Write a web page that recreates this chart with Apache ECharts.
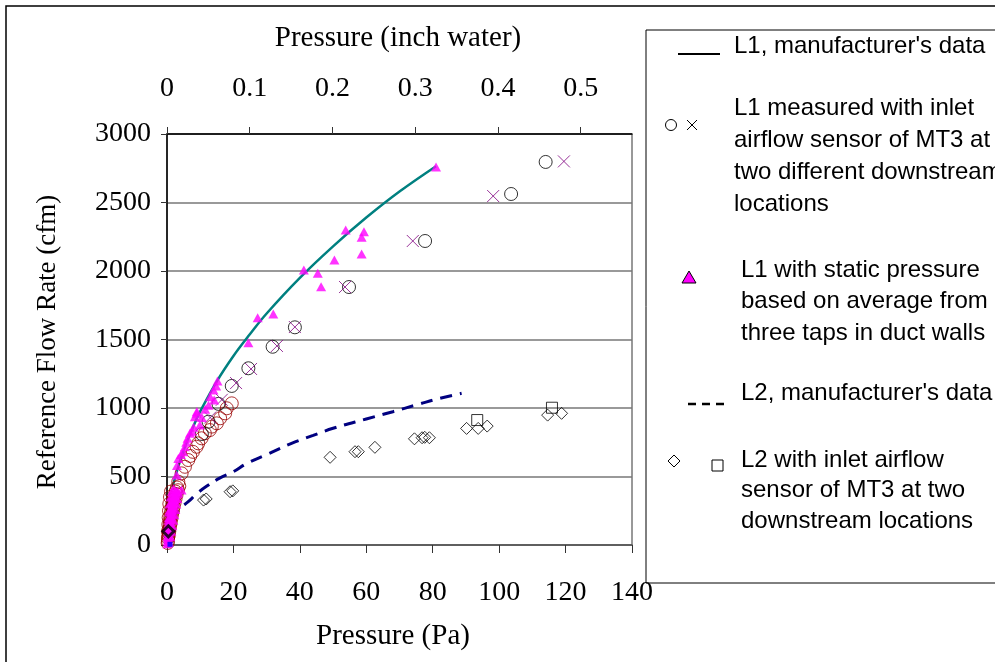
<!DOCTYPE html>
<html><head><meta charset="utf-8">
<script src="https://cdn.jsdelivr.net/npm/echarts@6/dist/echarts.min.js"></script>
<style>html,body{margin:0;padding:0;background:#fff}#c{width:995px;height:662px}</style>
</head><body><div id="c"></div>
<script>
// ---- data (Pa, cfm) ----
var xTicksPa = [0,20,40,60,80,100,120,140];
var xTicksInch = [0,0.1,0.2,0.3,0.4,0.5];
var yTicks = [0,500,1000,1500,2000,2500,3000];
var PA_PER_INCH = 249.09;

var L1_mfr = [[1.7,425],[3,540],[5,690],[8,870],[10,975],[15,1195],[20,1380],[25,1540],[30,1690],[40,1950],[50,2180],[60,2390],[70,2580],[81,2765]];
var L2_mfr = [[1.5,180],[2.4,220],[4,270],[6.4,316],[9,375],[12,430],[16,490],[20,535],[24,595],[30,660],[37.5,742],[44,800],[50,852],[60,920],[68,973],[76,1029],[82,1070],[88.7,1107]];
var L2_origin = [[0.9,5]];

var L1_circlesRed = [[0.3,30],[0.4,60],[0.5,90],[0.6,120],[0.8,150],[0.9,180],[1.0,210],[1.2,240],[1.4,270],[1.6,300],[1.9,330],[2.2,360],[2.6,390],[3.0,420],[3.4,462],[4.4,523],[5.4,571],[6.4,620],[7.0,650],[7.8,680],[8.9,717],[9.4,742],[10.4,779],[11.4,815],[12.9,839],[13.5,864],[15,888],[16,925],[17.5,961],[18,998],[19.5,1034],
  [0.2,15],[0.5,70],[0.7,100],[0.9,130],[1.1,160],[1.3,190],[1.5,220],[1.8,250],[2.0,280],[2.3,310],[2.6,340],[2.9,370],[3.3,400],[3.7,430],[0.3,50],[0.3,100],[0.4,150],[0.5,200],[0.6,250],[0.7,300],[0.9,350],[1.2,390]];
var L1_circlesBlack = [[114,2796],[103.6,2562],[77.7,2219],[54.8,1883],[38.5,1589],[31.8,1447],[24.5,1290],[19.5,1161],[15.5,1030],[12.5,900],[10.5,810]];
var L1_crosses = [[119.5,2800],[98.2,2547],[74,2219],[53.6,1883],[38.5,1591],[33.1,1453],[25.3,1285],[20.8,1182],[16.5,1060],[13,930]];
var L1_triangles = [[81,2760],[59.3,2287],[53.8,2299],[58.6,2246],[58.6,2124],[50.4,2080],[41.2,2007],[45.4,1983],[46.4,1885],[32,1686],[27.3,1659],[24.5,1477],[15.2,1197],[14.8,1161],[14,1131],[13,1082],[14.2,1058],[12.5,1020],[11.5,990],[9,975],[8.9,961],[8.4,937],[10.5,930],[9.9,876],[8,860],[7.5,830],[6.9,815],[6.2,780],[5.8,750],[5.4,717],[4.9,681],[4.2,660],[3.4,632],[3,580],[2.9,511],[4.4,401],
  [0.1,10],[0.2,30],[0.3,45],[0.4,60],[0.5,75],[0.6,95],[0.7,110],[0.8,130],[0.9,150],[1.0,170],[1.1,190],[1.2,210],[1.4,230],[1.5,250],[1.7,270],[1.9,290],[2.1,310],[2.3,330],[2.5,350],[2.8,370],[3.1,395],
  [0.6,20],[1.0,60],[1.3,100],[1.6,140],[1.9,180],[2.2,220],[2.5,260],[2.8,300],[3.1,340],[3.4,380],[0.3,120],[0.4,180],[0.6,240],[0.8,300],[1.1,350],[1.5,390],[2.0,410],
  [0.2,60],[0.3,90],[0.5,130],[0.7,160],[0.9,200],[1.2,240],[1.4,280],[1.8,320],[2.2,360],[2.6,390],[0.4,150],[0.6,200],[0.9,260],[1.2,310],[1.6,360]];
var L2_diamonds = [[11,328],[11.8,336],[19,389],[19.8,395],[49.1,640],[56.6,681],[57.6,681],[62.6,713],[74.5,775],[76.8,783],[77.6,786],[79,783],[90.2,851],[93.7,851],[96.4,868],[114.6,948],[118.8,961]];
var L2_diamondBold = [[0.4,100]];
var L2_squares = [[93.4,912],[115.9,1002]];

var legendTexts = {
  a: ["L1, manufacturer's data"],
  b: ["L1 measured with inlet","airflow sensor of MT3 at","two different downstream","locations"],
  c: ["L1 with static pressure","based on average from","three taps in duct walls"],
  d: ["L2, manufacturer's data"],
  e: ["L2 with inlet airflow","sensor of MT3 at two","downstream locations"]
};

var chart = echarts.init(document.getElementById('c'), null, {renderer:'canvas'});
var SERIF = 'Liberation Serif, Times New Roman, serif';
var SANS = 'Liberation Sans, Arial, sans-serif';
var TRANS = 'rgba(0,0,0,0)';

function legendLines(lines, x, yc0, dy){
  return lines.map(function(t,i){
    return {type:'text', x:x, y:yc0+i*dy, style:{text:t, font:'24px '+SANS, fill:'#000', textVerticalAlign:'middle'}};
  });
}
var graphics = [
  {type:'rect', shape:{x:6,y:6,width:1100,height:1000}, style:{fill:'none', stroke:'#000', lineWidth:1.5}, silent:true},
  {type:'rect', shape:{x:646,y:30,width:400,height:553}, style:{fill:'#fff', stroke:'#000', lineWidth:1}, silent:true},
  {type:'line', shape:{x1:678,y1:54,x2:720,y2:54}, style:{stroke:'#000', lineWidth:2}},
  {type:'circle', shape:{cx:671,cy:125,r:5.5}, style:{fill:'none', stroke:'#000', lineWidth:1}},
  {type:'polyline', shape:{points:[[687,120],[697,130]]}, style:{stroke:'#000', lineWidth:1}},
  {type:'polyline', shape:{points:[[697,120],[687,130]]}, style:{stroke:'#000', lineWidth:1}},
  {type:'polygon', shape:{points:[[689,271],[682,283],[696,283]]}, style:{fill:'#ff00ff', stroke:'#000', lineWidth:1}},
  {type:'line', shape:{x1:688,y1:404,x2:730,y2:404}, style:{stroke:'#000', lineWidth:2.5, lineDash:[8,6]}},
  {type:'polygon', shape:{points:[[674,455],[680,461],[674,467],[668,461]]}, style:{fill:'none', stroke:'#000', lineWidth:1}},
  {type:'rect', shape:{x:712,y:460,width:11,height:11}, style:{fill:'none', stroke:'#000', lineWidth:1}},
  {type:'text', x:398, y:38, style:{text:'Pressure (inch water)', font:'29px '+SERIF, fill:'#000', textAlign:'center', textVerticalAlign:'middle'}},
  {type:'text', x:393, y:636, style:{text:'Pressure (Pa)', font:'29px '+SERIF, fill:'#000', textAlign:'center', textVerticalAlign:'middle'}},
  {type:'text', x:48, y:342, rotation:Math.PI/2, style:{text:'Reference Flow Rate (cfm)', font:'27px '+SERIF, fill:'#000', textAlign:'center', textVerticalAlign:'middle'}}
]
.concat(legendLines(legendTexts.a, 734, 46, 32))
.concat(legendLines(legendTexts.b, 734, 108, 32))
.concat(legendLines(legendTexts.c, 741, 270, 31.5))
.concat(legendLines(legendTexts.d, 741, 393, 31))
.concat(legendLines(legendTexts.e, 741, 460, 30.5));

var option = {
  backgroundColor:'#fff',
  animation:false,
  grid:{left:167, right:363, top:134, bottom:117, show:true, borderColor:'#333', borderWidth:1, backgroundColor:'#fff'},
  xAxis:[{
    type:'value', min:xTicksPa[0], max:xTicksPa[xTicksPa.length-1], interval:20, position:'bottom',
    axisLine:{show:true, onZero:false, lineStyle:{color:'#555', width:1.5}},
    axisTick:{show:true, length:8, lineStyle:{color:'#333'}},
    axisLabel:{margin:34, fontFamily:SERIF, fontSize:28, color:'#000'},
    splitLine:{show:false}
  },{
    type:'value', min:0, max:xTicksPa[xTicksPa.length-1]/PA_PER_INCH, interval:0.1, position:'top',
    axisLine:{show:true, onZero:false, lineStyle:{color:'#000', width:1.5}},
    axisTick:{show:true, length:7, lineStyle:{color:'#333'}},
    axisLabel:{margin:31, fontFamily:SERIF, fontSize:28, color:'#000', showMaxLabel:false,
      formatter:function(v){ var r=Math.round(v*10)/10; return Math.abs(r-v)<1e-6 ? String(r) : ''; }},
    splitLine:{show:false}
  }],
  yAxis:{
    type:'value', min:yTicks[0], max:yTicks[yTicks.length-1], interval:500,
    axisLine:{show:true, onZero:false, lineStyle:{color:'#000', width:1.5}},
    axisTick:{show:true, length:6, lineStyle:{color:'#333'}},
    axisLabel:{margin:16, fontFamily:SERIF, fontSize:28, color:'#000', formatter:function(v){return String(v);}},
    splitLine:{show:true, lineStyle:{color:'#777', width:1.5}}
  },
  graphic:graphics,
  series:[
    {name:'L1 mfr', type:'line', xAxisIndex:0, data:L1_mfr, showSymbol:false, smooth:0.4, lineStyle:{color:'#008080', width:2.5}, z:3},
    {name:'L2 mfr', type:'line', xAxisIndex:0, data:L2_mfr, showSymbol:false, smooth:0.4, lineStyle:{color:'#000080', width:3, type:[12,8]}, z:3},
    {name:'L2 origin', type:'scatter', data:L2_origin, symbol:'rect', symbolSize:5, itemStyle:{color:'#0000ff'}, z:6},
    {name:'L1 red circles', type:'scatter', data:L1_circlesRed, symbol:'circle', symbolSize:13, itemStyle:{color:TRANS, borderColor:'#990000', borderWidth:1}, z:4},
    {name:'L1 black circles', type:'scatter', data:L1_circlesBlack, symbol:'circle', symbolSize:13, itemStyle:{color:TRANS, borderColor:'#000', borderWidth:1}, z:4},
    {name:'L1 crosses', type:'scatter', data:L1_crosses, symbol:'path://M0,0L10,10M10,0L0,10', symbolSize:12, itemStyle:{color:TRANS, borderColor:'#800080', borderWidth:1}, z:4},
    {name:'L1 triangles', type:'scatter', data:L1_triangles, symbol:'triangle', symbolSize:[10,9], itemStyle:{color:'#ff00ff'}, z:5},
    {name:'L2 diamonds', type:'scatter', data:L2_diamonds, symbol:'diamond', symbolSize:[12,12], itemStyle:{color:TRANS, borderColor:'#000', borderWidth:1}, z:4},
    {name:'L2 diamond bold', type:'scatter', data:L2_diamondBold, symbol:'diamond', symbolSize:[11,11], itemStyle:{color:TRANS, borderColor:'#000', borderWidth:3}, z:6},
    {name:'L2 squares', type:'scatter', data:L2_squares, symbol:'rect', symbolSize:[11,11], itemStyle:{color:TRANS, borderColor:'#000', borderWidth:1}, z:4}
  ]
};
chart.setOption(option);
</script></body></html>
